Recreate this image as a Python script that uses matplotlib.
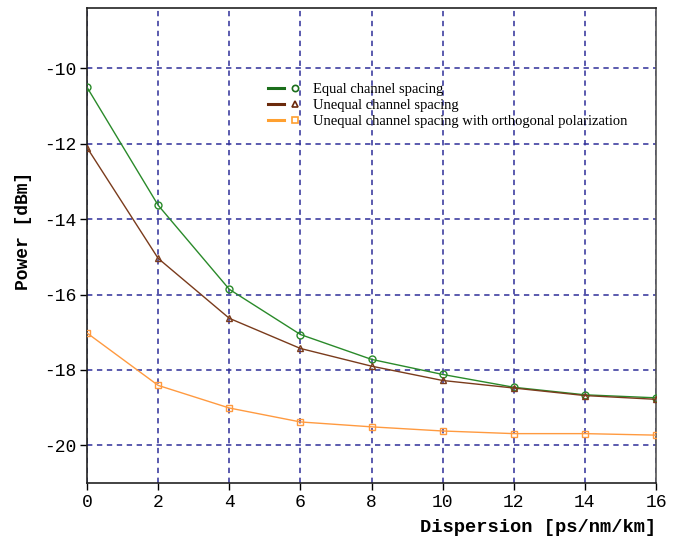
import matplotlib.pyplot as plt
from matplotlib.lines import Line2D
from matplotlib.legend_handler import HandlerTuple

plt.rcParams["axes.unicode_minus"] = False

dispersion = [0, 2, 4, 6, 8, 10, 12, 14, 16]
equal_spacing = [-10.5, -13.63, -15.86, -17.06, -17.72, -18.12, -18.46, -18.66, -18.74]
unequal_spacing = [-12.1, -15.04, -16.63, -17.43, -17.9, -18.28, -18.48, -18.68, -18.78]
unequal_orthogonal = [-17.02, -18.41, -19.01, -19.38, -19.51, -19.62, -19.69, -19.69, -19.73]

labels = ["Equal channel spacing",
          "Unequal channel spacing",
          "Unequal channel spacing with orthogonal polarization"]
colors = ["#2a8a2a", "#7a3b1c", "#ff9a40"]
legend_colors = ["#1b6e1b", "#6b2a0c", "#ffa030"]
markers = ["o", "^", "s"]

fig = plt.figure(figsize=(6.82, 5.43), dpi=100)
ax = fig.add_axes([0.1276, 0.1105, 0.8344, 0.8745])

series = [equal_spacing, unequal_spacing, unequal_orthogonal]
for vals, c, m in zip(series, colors, markers):
    ax.plot(dispersion, vals, color=c, lw=1.0, marker=m, ms=5,
            mfc="none", mec=c, mew=1.0, zorder=3)

ax.set_xlim(0, 16)
ax.set_ylim(-21.0, -8.4)
ax.set_xticks(dispersion)
ax.set_yticks([-20, -18, -16, -14, -12, -10])
ax.grid(True, color="#2e2e98", linestyle=(0, (3.5, 3)), lw=1.1)
ax.tick_params(direction="out", length=5, width=1, labelsize=13, pad=3)
for lab in ax.get_xticklabels() + ax.get_yticklabels():
    lab.set_family("Liberation Mono")
for s in ["left", "bottom", "top"]:
    ax.spines[s].set_color("#222222")
ax.spines["right"].set_color("#555555")
for s in ax.spines.values():
    s.set_linewidth(1.2)

ax.set_xlabel("Dispersion [ps/nm/km]", family="Liberation Mono",
              fontsize=13.5, fontweight="bold", loc="right", labelpad=6)
ax.set_ylabel("Power [dBm]", family="Liberation Mono",
              fontsize=13, fontweight="bold")
ax.yaxis.set_label_coords(-0.097, 0.53)

handles = []
for c, m in zip(legend_colors, markers):
    ln = Line2D([], [], color=c, lw=2.2)
    mk = Line2D([], [], color=c, marker=m, ls="none", ms=4.5, mfc="none", mew=1.2)
    handles.append((ln, mk))
ax.legend(handles, labels, handler_map={tuple: HandlerTuple(ndivide=2, pad=0.2)},
          loc="upper left", bbox_to_anchor=(0.308, 0.855), frameon=False,
          prop={"family": "Liberation Serif", "size": 10.5},
          handlelength=2.4, handletextpad=0.7, labelspacing=0.2,
          borderaxespad=0)

fig.savefig("out.png", dpi=100)
